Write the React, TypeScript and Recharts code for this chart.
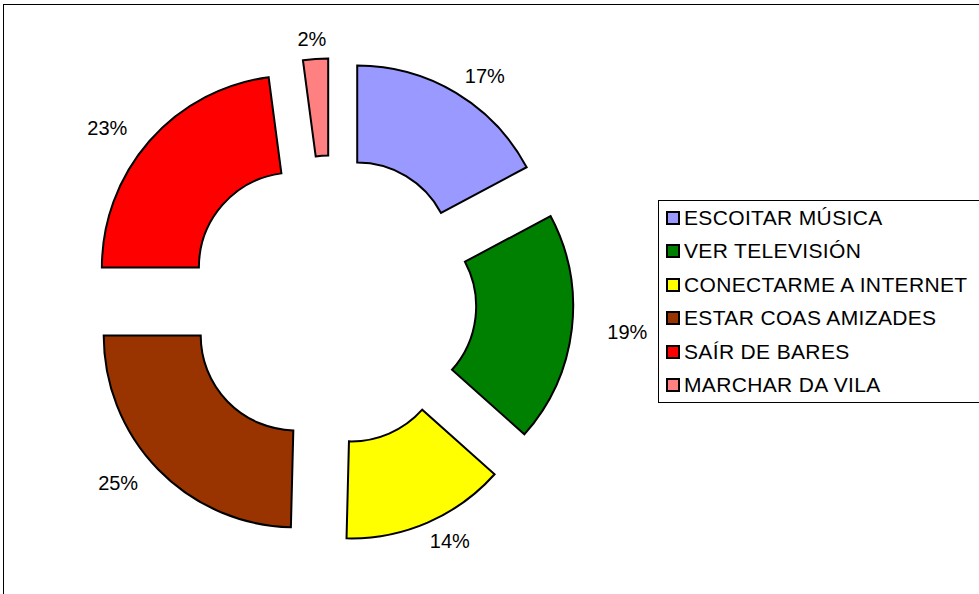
import React from 'react';
import { PieChart, Pie, Cell, Sector, Legend } from 'recharts';

const categories = [
  'ESCOITAR MÚSICA',
  'VER TELEVISIÓN',
  'CONECTARME A INTERNET',
  'ESTAR COAS AMIZADES',
  'SAÍR DE BARES',
  'MARCHAR DA VILA',
];
const values = [17.2, 19.4, 13.8, 24.6, 22.9, 2.1];
const colors = ['#9999FF', '#008000', '#FFFF00', '#993300', '#FF0000', '#FF8080'];

const data = categories.map((name, i) => ({ name, value: values[i] }));

const RAD = Math.PI / 180;
const EXPLODE = 50;
const LABEL_RX = 248;
const LABEL_RY = 212;
const FONT = '"Liberation Sans", Arial, sans-serif';

const ExplodedSector = (props: any) => {
  const { cx, cy, midAngle } = props;
  const dx = EXPLODE * Math.cos(-midAngle * RAD);
  const dy = EXPLODE * Math.sin(-midAngle * RAD);
  return <Sector {...props} cx={cx + dx} cy={cy + dy} />;
};

const renderLabel = (props: any) => {
  const { cx, cy, midAngle, percent } = props;
  const c = Math.cos(-midAngle * RAD);
  const s = Math.sin(-midAngle * RAD);
  const x = cx + EXPLODE * c + LABEL_RX * c;
  const y = cy + EXPLODE * s + LABEL_RY * s;
  return (
    <text
      x={x}
      y={y}
      textAnchor="middle"
      dominantBaseline="central"
      fontFamily={FONT}
      fontSize={20}
      fill="#000"
    >
      {`${Math.round(percent * 100)}%`}
    </text>
  );
};

const renderLegend = () => (
  <div
    style={{
      border: '1px solid #000',
      width: 340,
      height: 201,
      background: '#fff',
      fontFamily: FONT,
      fontSize: 21,
      letterSpacing: 0.35,
      color: '#000',
    }}
  >
    {categories.map((c, i) => (
      <div key={c} style={{ height: 33.5, display: 'flex', alignItems: 'center', whiteSpace: 'nowrap' }}>
        <span
          style={{
            display: 'inline-block',
            width: 10,
            height: 10,
            border: '2px solid #000',
            background: colors[i],
            marginLeft: 7,
            marginRight: 4,
            flex: 'none',
          }}
        />
        <span>{c}</span>
      </div>
    ))}
  </div>
);

export default function App() {
  return (
    <div
      style={{
        position: 'absolute',
        left: 0,
        top: 0,
        width: 979,
        height: 594,
        overflow: 'hidden',
        background: '#fff',
      }}
    >
      <div
        style={{
          position: 'absolute',
          left: 3,
          top: 4,
          width: 1000,
          height: 1000,
          border: '1px solid #000',
        }}
      />
      <div style={{ position: 'absolute', left: 0, top: 0 }}>
        <PieChart width={979} height={594} margin={{ top: 0, right: 0, bottom: 0, left: 0 }}>
          <Pie
            data={data}
            dataKey="value"
            nameKey="name"
            cx={331.5}
            cy={300.5}
            innerRadius={95}
            outerRadius={192}
            startAngle={90}
            endAngle={-270}
            stroke="#000"
            strokeWidth={2}
            shape={ExplodedSector}
            label={renderLabel}
            labelLine={false}
            isAnimationActive={false}
          >
            {data.map((d, i) => (
              <Cell key={d.name} fill={colors[i]} />
            ))}
          </Pie>
          <Legend
            layout="vertical"
            align="right"
            verticalAlign="middle"
            content={renderLegend}
            wrapperStyle={{ left: 658, top: 200, right: 'auto', bottom: 'auto', width: 340 }}
          />
        </PieChart>
      </div>
    </div>
  );
}
